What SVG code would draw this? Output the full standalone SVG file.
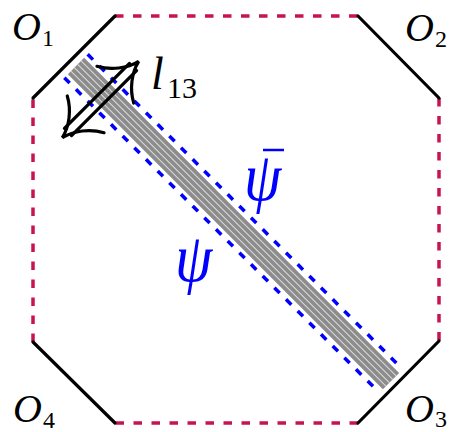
<svg xmlns="http://www.w3.org/2000/svg" width="455" height="432" viewBox="0 0 455 432">
<style>
.red{stroke:#c8144e;stroke-width:3.5;stroke-dasharray:8.5 9.5;fill:none}
.blk{stroke:#000;stroke-width:3.2;fill:none;stroke-linecap:round}
.blue{stroke:#0000ff;stroke-width:3.5;stroke-dasharray:7.5 9;fill:none}
.m{font-family:'Liberation Serif',serif;font-style:italic;font-size:40px;fill:#000}
.s{font-family:'Liberation Serif',serif;font-size:24px;fill:#000}
.g{font-family:'Liberation Serif',serif;font-style:italic;font-size:60px;fill:#0000ff}
</style>
<rect width="455" height="432" fill="#fff"/>
<g id="octagon">
<line class="red" x1="115" y1="16" x2="358" y2="16"/>
<line class="red" x1="439" y1="98" x2="439" y2="341"/>
<line class="red" x1="358" y1="423" x2="115" y2="423"/>
<line class="red" x1="33" y1="342" x2="33" y2="98"/>
<line class="blk" x1="115" y1="16" x2="33" y2="98"/>
<line class="blk" x1="358" y1="16" x2="439" y2="98"/>
<line class="blk" x1="439" y1="341" x2="358" y2="423"/>
<line class="blk" x1="115" y1="423" x2="33" y2="342"/>
</g>
<g id="band" transform="translate(76,66) rotate(45)">
<rect x="0" y="-11.5" width="445.5" height="23" fill="#8c8c8c"/>
<g fill="#dcdcdc">
<rect x="0" y="-7.7" width="445.5" height="1"/>
<rect x="0" y="-2.9" width="445.5" height="1"/>
<rect x="0" y="1.9" width="445.5" height="1"/>
<rect x="0" y="6.7" width="445.5" height="1"/>
</g>
<line class="blue" x1="0" y1="-16.5" x2="445.5" y2="-16.5"/>
<line class="blue" x1="0" y1="16.5" x2="445.5" y2="16.5"/>
</g>
<g id="arrow" transform="translate(100.5,99.5) rotate(-45)" class="blk">
<line x1="-46" y1="-5" x2="46" y2="-5"/>
<line x1="-46" y1="5" x2="46" y2="5"/>
<path d="M21,-26 C28,-13 41,-3 54,0 C41,3 28,13 21,26"/>
<path d="M-21,-26 C-28,-13 -41,-3 -54,0 C-41,3 -28,13 -21,26"/>
</g>
<g id="labels">
<text class="m" x="12" y="40">O</text><text class="s" x="42" y="46">1</text>
<text class="m" x="405" y="41">O</text><text class="s" x="435" y="47">2</text>
<text class="m" x="405" y="422">O</text><text class="s" x="435" y="427">3</text>
<text class="m" x="13" y="422">O</text><text class="s" x="43" y="428">4</text>
<text class="m" x="151" y="89" style="font-size:46px">l</text><text class="s" x="167" y="98" style="font-size:30px">13</text>
<text class="g" transform="translate(244,200) scale(1,1.12)">ψ</text>
<line x1="263" y1="150" x2="284" y2="150" stroke="#0000ff" stroke-width="2.5"/>
<text class="g" transform="translate(175,281) scale(1,1.12)">ψ</text>
</g>
</svg>
